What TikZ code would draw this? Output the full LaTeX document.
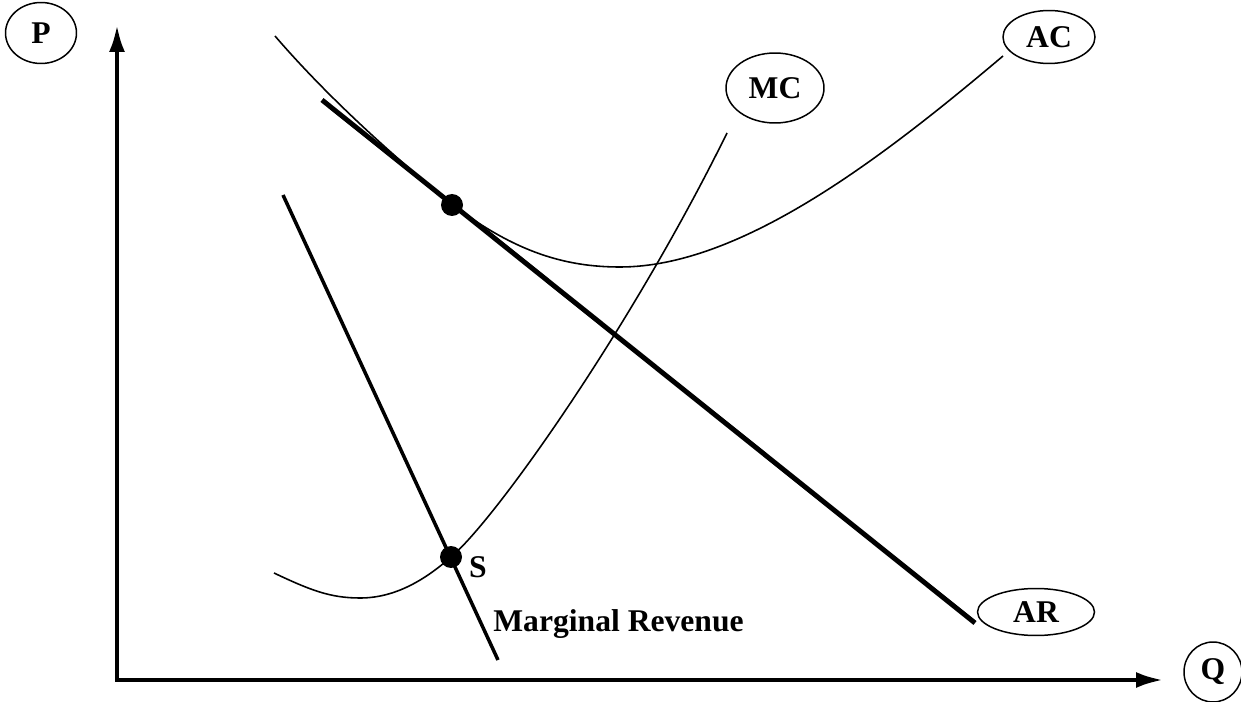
\documentclass[tikz,border=0pt]{standalone}
\usepackage{fontspec}
\setmainfont{Liberation Serif}
\usetikzlibrary{arrows.meta, shapes.geometric}

\begin{document}
\begin{tikzpicture}[x=0.02cm, y=-0.02cm,
  font=\fontsize{18}{20}\selectfont\bfseries, >={Latex[length=5.4mm,width=3.2mm]},
  lbl/.style={draw, ellipse, line width=0.85pt, inner sep=0pt},
  axis/.style={line width=2.3pt},
  crv/.style={line width=0.9pt},
  dot/.style={circle, fill, inner sep=0pt, minimum size=0.44cm}]
  \useasboundingbox (0,0) rectangle (1241,702);
  % Axes
  \coordinate (O)    at (117,680);
  \coordinate (ytop) at (117,25);
  \coordinate (xend) at (1163,680);
  \draw[axis, <->] (ytop) -- (O) -- (xend);
  % Labels
  \node[lbl, minimum width=1.42cm, minimum height=1.22cm] (p)  at (41,33)    {P};
  \node[lbl, minimum width=1.16cm, minimum height=1.2cm]  (q)  at (1213,672) {Q};
  \node[lbl, minimum width=1.84cm, minimum height=1.06cm] (ac) at (1049,37)  {AC};
  \node[lbl, minimum width=1.96cm, minimum height=1.4cm]  (mc) at (775,88)   {MC};
  \node[lbl, minimum width=2.34cm, minimum height=0.94cm] (ar) at (1036,612) {AR};
  % AC curve
  \coordinate (ac0) at (275,36);
  \coordinate (ac1) at (1003,56);
  \draw[crv] (ac0) .. controls (330,100) and (400,162) .. (453,205)
    .. controls (515,252) and (565,267) .. (620,267)
    .. controls (740,267) and (880,160) .. (ac1);
  % MC curve
  \coordinate (mc0) at (274,573);
  \coordinate (mc1) at (727,133);
  \draw[crv] (mc0) .. controls (310,590) and (330,598) .. (360,598)
    .. controls (395,598) and (425,580) .. (451,557)
    .. controls (495,520) and (630,330) .. (mc1);
  % AR and marginal revenue
  \coordinate (ar0) at (322,100);
  \coordinate (ar1) at (975,623);
  \draw[line width=2.8pt] (ar0) -- (ar1);
  \coordinate (mr0) at (283,195);
  \coordinate (mr1) at (498,660);
  \draw[line width=2pt] (mr0) -- (mr1);
  % Points
  \node[dot] (e) at (452,205) {};
  \node[dot] (s) at (451,557) {};
  \node[inner sep=0pt] (slbl) at (478,567) {S};
  \node[anchor=west, inner sep=0pt] (mrlbl) at (493,624) {Marginal Revenue};
\end{tikzpicture}
\end{document}
